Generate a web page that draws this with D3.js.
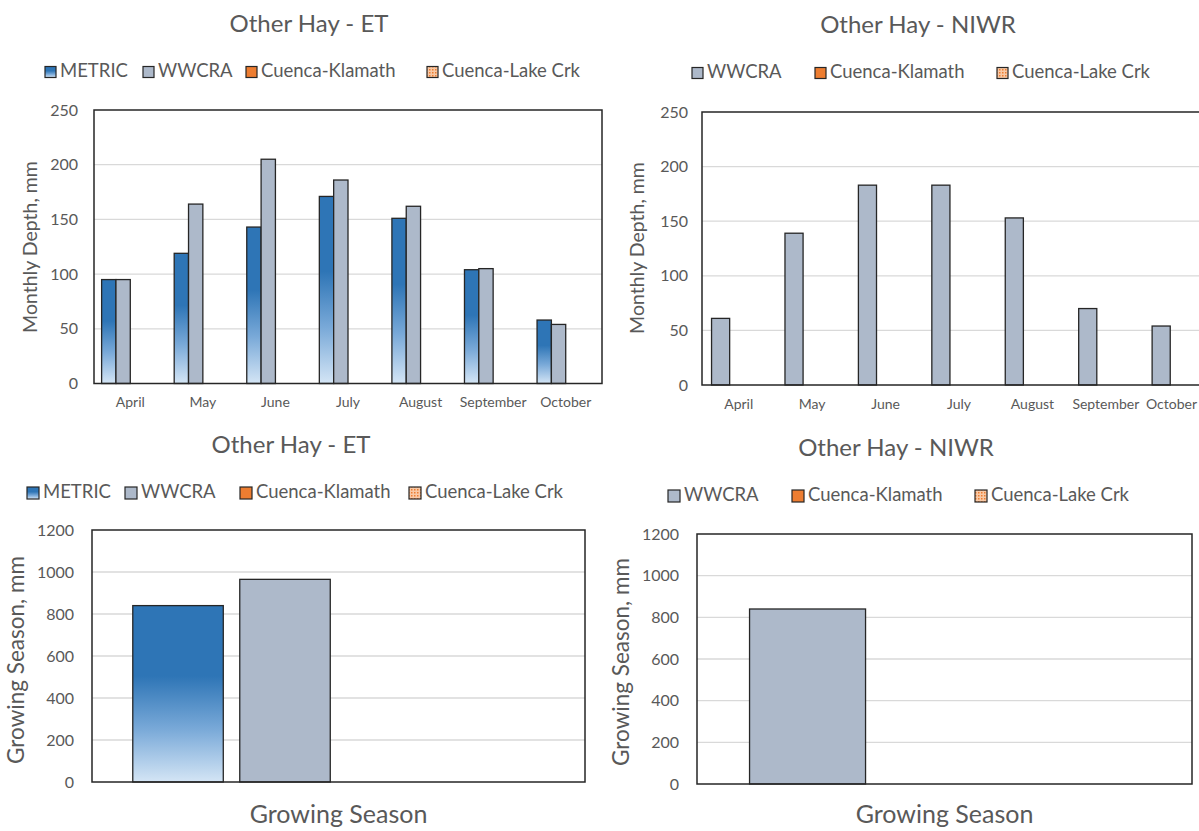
<!DOCTYPE html>
<html>
<head>
<meta charset="utf-8">
<script src="https://cdn.jsdelivr.net/npm/d3@7"></script>
<style>
  body { margin: 0; background: #fff; }
  text { font-family: Lato, "Noto Sans", sans-serif; fill: #595959; }
</style>
</head>
<body>
<div id="chart"></div>
<script>
// monthly values (mm)
const months = ["April", "May", "June", "July", "August", "September", "October"];
const etSeries = ["METRIC", "WWCRA", "Cuenca-Klamath", "Cuenca-Lake Crk"];
const niwrSeries = ["WWCRA", "Cuenca-Klamath", "Cuenca-Lake Crk"];
const etMetric = [95, 119, 143, 171, 151, 104, 58];
const etWwcra = [95, 164, 205, 186, 162, 105, 54];
const niwrWwcra = [61, 139, 183, 183, 153, 70, 54];
const cuencaKlamath = [];   // no bars in the picture
const cuencaLakeCrk = [];

// growing season totals (mm)
const seasonCats = ["Growing Season"];
const seasonEtMetric = [840];
const seasonEtWwcra = [965];
const seasonNiwrWwcra = [840];

const monthlyTicks = [0, 50, 100, 150, 200, 250];
const seasonTicks = [0, 200, 400, 600, 800, 1000, 1200];

const width = 1199, height = 831;

const svg = d3.select("#chart")
    .append("svg")
    .attr("width", width)
    .attr("height", height)
    .style("display", "block");

svg.append("rect").attr("width", width).attr("height", height).attr("fill", "#fff");

var defs = svg.append("defs");
var grad = defs.append("linearGradient")
    .attr("id", "metricGrad")
    .attr("x1", 0).attr("y1", 0).attr("x2", 0).attr("y2", 1);
grad.append("stop").attr("offset", "0").attr("stop-color", "#2e75b6");
grad.append("stop").attr("offset", "0.4").attr("stop-color", "#2e75b6");
grad.append("stop").attr("offset", "0.7").attr("stop-color", "#79a9d8");
grad.append("stop").attr("offset", "1").attr("stop-color", "#d4e5f5");

var pat = defs.append("pattern")
    .attr("id", "lakeDots")
    .attr("patternUnits", "userSpaceOnUse")
    .attr("width", 3).attr("height", 3);
pat.append("rect").attr("width", 3).attr("height", 3).attr("fill", "#f8c9a6");
pat.append("rect").attr("width", 1.5).attr("height", 1.5).attr("fill", "#ed7d31");

var fills = {
    "METRIC": "url(#metricGrad)",
    "WWCRA": "#adb9ca",
    "Cuenca-Klamath": "#ed7d31",
    "Cuenca-Lake Crk": "url(#lakeDots)"
};

function drawPanel(p) {
    var g = svg.append("g");
    var w = p.x1 - p.x0, h = p.y1 - p.y0;

    var x0 = d3.scaleBand()
        .domain(p.cats)
        .range([p.x0, p.x1])
        .paddingInner(p.pad)
        .paddingOuter(p.pad / 2);
    var x1 = d3.scaleBand()
        .domain(p.series)
        .range([0, x0.bandwidth()])
        .paddingInner(p.barPad)
        .paddingOuter(p.barPad / 2);
    var y = d3.scaleLinear()
        .domain([0, d3.max(p.ticks)])
        .range([p.y1, p.y0]);

    // title
    g.append("text")
        .attr("x", p.titleX).attr("y", p.titleY)
        .attr("text-anchor", "middle")
        .attr("dominant-baseline", "middle")
        .attr("font-size", 24)
        .text(p.title);

    // legend
    p.series.forEach(function(s, i) {
        g.append("rect")
            .attr("x", p.legendX[i]).attr("y", p.legendY - p.sw / 2)
            .attr("width", p.sw).attr("height", p.sw)
            .attr("fill", fills[s])
            .attr("stroke", "#262626").attr("stroke-width", 1.2);
        g.append("text")
            .attr("x", p.legendX[i] + p.sw + 4).attr("y", p.legendY)
            .attr("dominant-baseline", "middle")
            .attr("font-size", 18.5)
            .text(s);
    });

    // gridlines
    g.append("g")
        .selectAll("line")
        .data(p.ticks.slice(1, -1))
        .enter()
        .append("line")
        .attr("x1", p.x0).attr("x2", p.x1)
        .attr("y1", function(d) { return y(d); })
        .attr("y2", function(d) { return y(d); })
        .attr("stroke", "#d9d9d9").attr("stroke-width", 1.3);

    // y tick labels
    var yAxis = g.append("g")
        .attr("transform", "translate(" + p.x0 + ",0)")
        .call(d3.axisLeft(y).tickValues(p.ticks).tickFormat(d3.format("d")).tickSize(0).tickPadding(p.tickPad));
    yAxis.select(".domain").remove();
    yAxis.selectAll("text")
        .attr("font-size", 16)
        .style("font-family", "Lato, sans-serif")
        .attr("fill", "#595959");

    // bars
    p.cats.forEach(function(c, ci) {
        p.series.forEach(function(s) {
            var v = p.values[s][ci];
            if (v == null) return;
            g.append("rect")
                .attr("x", x0(c) + x1(s))
                .attr("y", y(v))
                .attr("width", x1.bandwidth())
                .attr("height", y(0) - y(v))
                .attr("fill", fills[s])
                .attr("stroke", "#262626")
                .attr("stroke-width", 1.3);
        });
    });

    // x labels
    var xAxis = g.append("g")
        .attr("transform", "translate(0," + p.y1 + ")")
        .call(d3.axisBottom(x0).tickSize(0).tickPadding(p.xPad));
    xAxis.select(".domain").remove();
    xAxis.selectAll("text")
        .attr("font-size", p.xFont)
        .style("font-family", "Lato, sans-serif")
        .attr("fill", "#595959")
        .each(function() {
            // keep a label inside the page, like the chart tool does at its edge
            var b = this.getBBox();
            var tx = this.parentNode.transform.baseVal.consolidate().matrix.e;
            var over = tx + b.x + b.width - (width - 2);
            if (over > 0) d3.select(this).attr("x", -over);
        });

    // plot frame
    g.append("rect")
        .attr("x", p.x0).attr("y", p.y0)
        .attr("width", w).attr("height", h)
        .attr("fill", "none")
        .attr("stroke", "#262626").attr("stroke-width", 1.5);

    // y title
    g.append("text")
        .attr("transform", "translate(" + p.yTitleX + "," + p.yTitleY + ") rotate(-90)")
        .attr("text-anchor", "middle")
        .attr("dominant-baseline", "middle")
        .attr("font-size", p.yTitleFont)
        .text(p.yTitle);
}

// top left: monthly ET
drawPanel({
    title: "Other Hay - ET", titleX: 309, titleY: 26,
    series: etSeries, cats: months,
    values: { "METRIC": etMetric, "WWCRA": etWwcra, "Cuenca-Klamath": cuencaKlamath, "Cuenca-Lake Crk": cuencaLakeCrk },
    ticks: monthlyTicks,
    x0: 94, x1: 602, y0: 110, y1: 383.5,
    pad: 0.21, barPad: 0,
    legendX: [45, 143, 246, 427], legendY: 72, sw: 11,
    tickPad: 16, xPad: 14, xFont: 14,
    yTitle: "Monthly Depth, mm", yTitleX: 32, yTitleY: 247, yTitleFont: 19.5
});

// top right: monthly NIWR
drawPanel({
    title: "Other Hay - NIWR", titleX: 918, titleY: 27,
    series: niwrSeries, cats: months,
    values: { "WWCRA": niwrWwcra, "Cuenca-Klamath": cuencaKlamath, "Cuenca-Lake Crk": cuencaLakeCrk },
    ticks: monthlyTicks,
    x0: 702, x1: 1216, y0: 112, y1: 385,
    pad: 0.26, barPad: 0,
    legendX: [692, 815, 997], legendY: 73, sw: 11,
    tickPad: 14, xPad: 14, xFont: 14,
    yTitle: "Monthly Depth, mm", yTitleX: 639, yTitleY: 248, yTitleFont: 19.5
});

// bottom left: growing season ET
drawPanel({
    title: "Other Hay - ET", titleX: 291, titleY: 447,
    series: etSeries, cats: seasonCats,
    values: { "METRIC": seasonEtMetric, "WWCRA": seasonEtWwcra, "Cuenca-Klamath": cuencaKlamath, "Cuenca-Lake Crk": cuencaLakeCrk },
    ticks: seasonTicks,
    x0: 92, x1: 585, y0: 530, y1: 782,
    pad: 0.132, barPad: 0.154,
    legendX: [27, 125, 240, 409], legendY: 493, sw: 12,
    tickPad: 18, xPad: 23, xFont: 25,
    yTitle: "Growing Season, mm", yTitleX: 18, yTitleY: 660, yTitleFont: 22.5
});

// bottom right: growing season NIWR
drawPanel({
    title: "Other Hay - NIWR", titleX: 896, titleY: 450,
    series: niwrSeries, cats: seasonCats,
    values: { "WWCRA": seasonNiwrWwcra, "Cuenca-Klamath": cuencaKlamath, "Cuenca-Lake Crk": cuencaLakeCrk },
    ticks: seasonTicks,
    x0: 697, x1: 1192, y0: 534, y1: 784,
    pad: 0.17, barPad: 0.153,
    legendX: [668, 792, 975], legendY: 496, sw: 12,
    tickPad: 18, xPad: 21, xFont: 25,
    yTitle: "Growing Season, mm", yTitleX: 623, yTitleY: 662, yTitleFont: 22.5
});
</script>
</body>
</html>
